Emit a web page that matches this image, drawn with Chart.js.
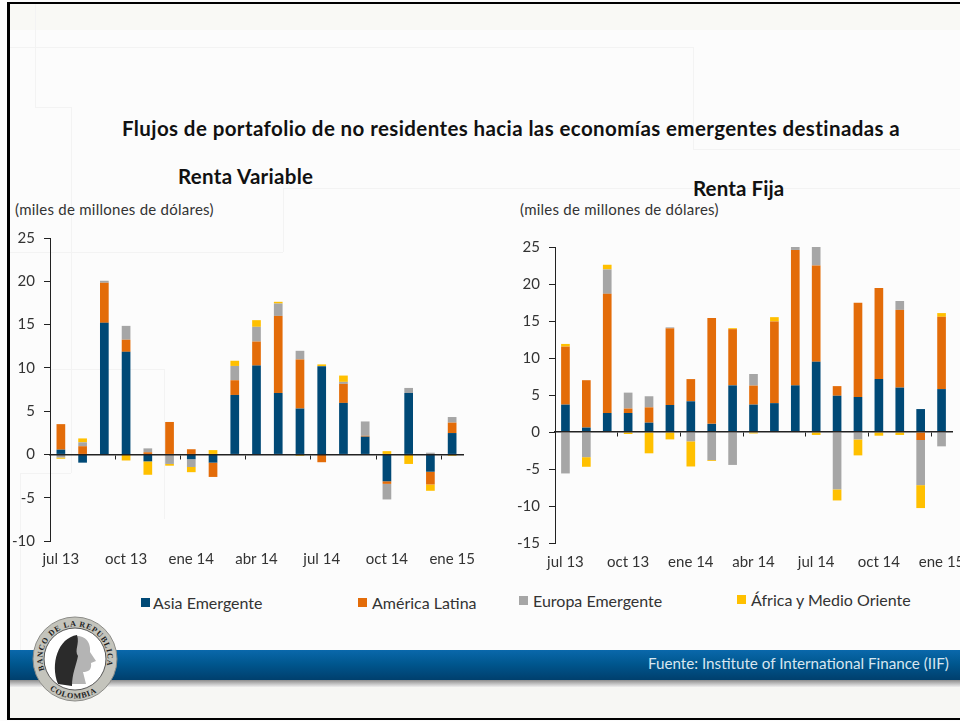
<!DOCTYPE html>
<html lang="es">
<head>
<meta charset="utf-8">
<title>Flujos de portafolio</title>
<script src="https://cdn.jsdelivr.net/npm/chart.js@4"></script>
<style>
  html, body { margin: 0; padding: 0; }
  body { width: 960px; height: 721px; overflow: hidden; position: relative; background: #fcfcfc; font-family: Lato, "Open Sans", sans-serif; color: #222; }
  .abs { position: absolute; white-space: nowrap; line-height: 1; }
  .deco { position: absolute; background: #f3f3f3; }
  .title { font-weight: 700; color: #111; font-size: 20.5px; }
  .unit { font-size: 15px; color: #333; letter-spacing: 0.25px; }
  canvas { position: absolute; }
  .swatch { position: absolute; width: 9px; height: 9px; }
  .legend-label { font-size: 16px; color: #333; }
</style>
</head>
<body>
<div class="deco" style="left:9px;top:4px;width:951px;height:26px;background:#f9f9f5"></div>
<div class="deco" style="left:9px;top:47px;width:684px;height:1px"></div>
<div class="deco" style="left:693px;top:47px;width:1px;height:102px"></div>
<div class="deco" style="left:693px;top:149px;width:267px;height:1px"></div>
<div class="deco" style="left:283px;top:188px;width:677px;height:1px"></div>
<div class="deco" style="left:283px;top:188px;width:1px;height:64px"></div>
<div class="deco" style="left:9px;top:252px;width:274px;height:1px"></div>
<div class="deco" style="left:35px;top:4px;width:1px;height:103px"></div>
<div class="deco" style="left:71px;top:107px;width:1px;height:366px"></div>
<div class="deco" style="left:35px;top:107px;width:36px;height:1px"></div>
<div class="deco" style="left:50px;top:369px;width:114px;height:1px"></div>
<div class="deco" style="left:164px;top:369px;width:1px;height:150px"></div>
<div class="deco" style="left:20px;top:473px;width:51px;height:1px"></div>
<div class="deco" style="left:20px;top:473px;width:1px;height:177px"></div>

<div class="abs title" style="left:122px;top:118px;letter-spacing:0.4px">Flujos de portafolio de no residentes hacia las economías emergentes destinadas a</div>
<div class="abs title" style="left:178px;top:166px;letter-spacing:0.3px">Renta Variable</div>
<div class="abs title" style="left:693px;top:178px;letter-spacing:0.1px">Renta Fija</div>
<div class="abs unit" style="left:15px;top:202px">(miles de millones de dólares)</div>
<div class="abs unit" style="left:520px;top:202px">(miles de millones de dólares)</div>

<canvas id="chartVariable" style="left:10px;top:220px"></canvas>
<canvas id="chartFija" style="left:510px;top:220px"></canvas>

<div id="legend"></div>

<!-- franja inferior -->
<div class="deco" style="left:9px;top:687px;width:951px;height:31px;background:#f7f7f4"></div>
<div class="deco" style="left:9px;top:680px;width:951px;height:7px;background:linear-gradient(#8d8d8d,#eeeeee)"></div>
<div class="deco" style="left:9px;top:650px;width:951px;height:30px;background:linear-gradient(#0a68ab,#00578f 45%,#003f6d)"></div>
<div class="abs" style="left:648px;top:656px;font-size:15.2px;color:#d8e6f0">Fuente: Institute of International Finance (IIF)</div>

<div style="position:absolute;left:7px;top:2px;width:953px;height:2px;background:#000"></div>
<div style="position:absolute;left:7px;top:2px;width:3px;height:717px;background:#000"></div>
<div style="position:absolute;left:7px;top:718px;width:953px;height:2px;background:#000"></div>

<svg style="position:absolute;left:30px;top:614px" width="90" height="90" viewBox="0 0 90 90">
  <defs>
    <path id="arcTop" d="M 14.5 56.1 A 32.5 32.5 0 1 1 75.5 56.1"/>
    <path id="arcBottom" d="M 19.6 75.3 A 39.5 39.5 0 0 0 70.4 75.3"/>
  </defs>
  <circle cx="45" cy="45" r="42" fill="#c4c4bc" stroke="#8c8c88"/>
  <circle cx="45" cy="45" r="31" fill="#fff" stroke="#555"/>
  <text font-family="Liberation Serif" font-weight="700" font-size="8" fill="#222"><textPath href="#arcTop" textLength="120">BANCO DE LA REPUBLICA</textPath></text>
  <text font-family="Liberation Serif" font-weight="700" font-size="8" fill="#222"><textPath href="#arcBottom" textLength="50">COLOMBIA</textPath></text>
  <path d="M 30 70 C 22 50 30 24 47 22 C 58 22 61 32 60 38 L 66 47 L 61 49 C 62 56 58 58 53 58 L 56 70 Z" fill="#b4b4b4"/>
  <path d="M 28 70 C 20 50 28 24 47 21 C 50 30 44 36 48 42 C 46 52 42 60 42 72 Z" fill="#2b2b2b"/>
</svg>

<script>
const CATEGORIES = ['jul 13', 'ago 13', 'sep 13', 'oct 13', 'nov 13', 'dic 13', 'ene 14', 'feb 14', 'mar 14', 'abr 14', 'may 14', 'jun 14', 'jul 14', 'ago 14', 'sep 14', 'oct 14', 'nov 14', 'dic 14', 'ene 15'];

const SERIES_NAMES = ['Asia Emergente', 'América Latina', 'Europa Emergente', 'África y Medio Oriente'];
const SERIES_COLORS = ['#004976', '#E36C09', '#A6A6A6', '#FFC000'];

// Renta Variable
const asiaVariable = [0.55, -0.95, 15.2, 11.85, -0.8, 0, -0.55, -0.95, 6.87, 10.26, 7.1, 5.3, 10.2, 5.95, 2.05, -3.1, 7.1, -2.0, 2.47];
const latamVariable = [2.95, 0.95, 4.63, 1.4, 0.25, 3.75, 0.6, -1.65, 1.7, 2.78, 8.9, 5.67, -0.9, 2.2, 0.1, -0.3, 0, -1.47, 1.2];
const europaVariable = [-0.35, 0.45, 0.23, 1.6, 0.45, -1.1, -0.9, 0, 1.65, 1.7, 1.43, 1.0, 0, 0.23, 1.66, -1.8, 0.58, 0.2, 0.65];
const africaVariable = [-0.15, 0.45, 0, -0.7, -1.55, -0.2, -0.6, 0.5, 0.6, 0.77, 0.2, -0.15, 0.2, 0.73, 0, 0.38, -1.1, -0.73, -0.15];

// Renta Fija
const asiaFija = [3.7, 0.6, 2.57, 2.57, 1.26, 3.65, 4.15, 1.1, 6.3, 3.7, 3.9, 6.3, 9.5, 4.9, 4.73, 7.16, 6.0, 3.1, 5.8];
const latamFija = [7.84, 6.4, 16.1, 0.6, 2.07, 10.36, 3.0, 14.3, 7.6, 2.57, 11.04, 18.3, 13.0, 1.3, 12.75, 12.3, 10.5, -1.08, 9.77];
const europaFija = [-5.6, -3.4, 3.3, 2.15, 1.5, 0.13, -1.26, -3.8, -4.45, 1.57, 0, 0.4, 2.5, -7.75, -1.0, 0, 1.2, -6.1, -1.94];
const africaFija = [0.36, -1.3, 0.63, -0.27, -2.88, -1.0, -3.4, -0.12, 0.13, -0.2, 0.58, 0, -0.4, -1.5, -2.16, -0.5, -0.4, -3.1, 0.5];

const TICK_FONT = { family: 'Lato', size: 15 };
const TEXT_COLOR = '#333';
const AXIS_COLOR = '#222';

function buildChart(canvasId, values, cfg) {
  const canvas = document.getElementById(canvasId);
  canvas.width = cfg.width;
  canvas.height = cfg.height;

  new Chart(canvas, {
    type: 'bar',
    data: {
      labels: CATEGORIES,
      datasets: values.map((data, i) => ({
        label: SERIES_NAMES[i],
        data,
        backgroundColor: SERIES_COLORS[i],
        categoryPercentage: 1,
        barPercentage: cfg.barPercentage,
        xAxisID: 'x',
        yAxisID: 'y'
      }))
    },
    options: {
      responsive: false,
      animation: false,
      layout: { padding: cfg.padding },
      plugins: { legend: { display: false }, tooltip: { enabled: false } },
      scales: {
        x: {
          stacked: true,
          position: 'bottom',
          grid: { display: false, drawTicks: false },
          border: { display: false },
          afterFit: s => { s.height = cfg.bottom; },
          ticks: {
            autoSkip: false,
            maxRotation: 0,
            padding: cfg.labelPad,
            font: TICK_FONT,
            color: TEXT_COLOR,
            callback(v, i) { return i % 3 === 0 ? this.getLabelForValue(v) : ''; }
          }
        },
        // linea del cero con las marcas cada tres meses
        xZero: {
          position: { y: 0 },
          type: 'category',
          offset: true,
          grid: {
            offset: true,
            drawOnChartArea: false,
            drawTicks: true,
            tickLength: 4,
            tickWidth: 1,
            tickColor: c => (c.index > 0 && c.index % 3 === 0 ? AXIS_COLOR : 'rgba(0,0,0,0)')
          },
          border: { display: true, color: AXIS_COLOR, width: 1.5, z: 2 },
          ticks: { display: false, autoSkip: false }
        },
        y: {
          stacked: true,
          min: cfg.min,
          max: cfg.max,
          afterFit: s => { s.width = cfg.left; },
          grid: { drawOnChartArea: false, tickLength: 6, tickColor: AXIS_COLOR },
          border: { color: AXIS_COLOR, width: 1 },
          ticks: { stepSize: 5, padding: 9, font: TICK_FONT, color: TEXT_COLOR }
        }
      }
    }
  });
}

buildChart('chartVariable', [asiaVariable, latamVariable, europaVariable, africaVariable], {
  width: 490, height: 370, left: 40, bottom: 49,
  padding: { top: 18, right: 37, left: 0, bottom: 0 },
  labelPad: 9, barPercentage: 0.4, min: -10, max: 25
});

buildChart('chartFija', [asiaFija, latamFija, europaFija, africaFija], {
  width: 500, height: 370, left: 45, bottom: 47,
  padding: { top: 27, right: 58, left: 0, bottom: 0 },
  labelPad: 10, barPercentage: 0.415, min: -15, max: 25
});

// leyenda compartida
const LEGEND_X = [141, 358, 519, 737];
const LEGEND_TEXT_X = [153, 372, 533, 751];
const LEGEND_Y = [603, 603, 601, 600];
const legend = document.getElementById('legend');
SERIES_NAMES.forEach((name, i) => {
  legend.insertAdjacentHTML('beforeend',
    `<span class="swatch" style="left:${LEGEND_X[i]}px;top:${LEGEND_Y[i] - 5}px;background:${SERIES_COLORS[i]}"></span>` +
    `<span class="abs legend-label" style="left:${LEGEND_TEXT_X[i]}px;top:${LEGEND_Y[i] - 8}px">${name}</span>`);
});
</script>
</body>
</html>
